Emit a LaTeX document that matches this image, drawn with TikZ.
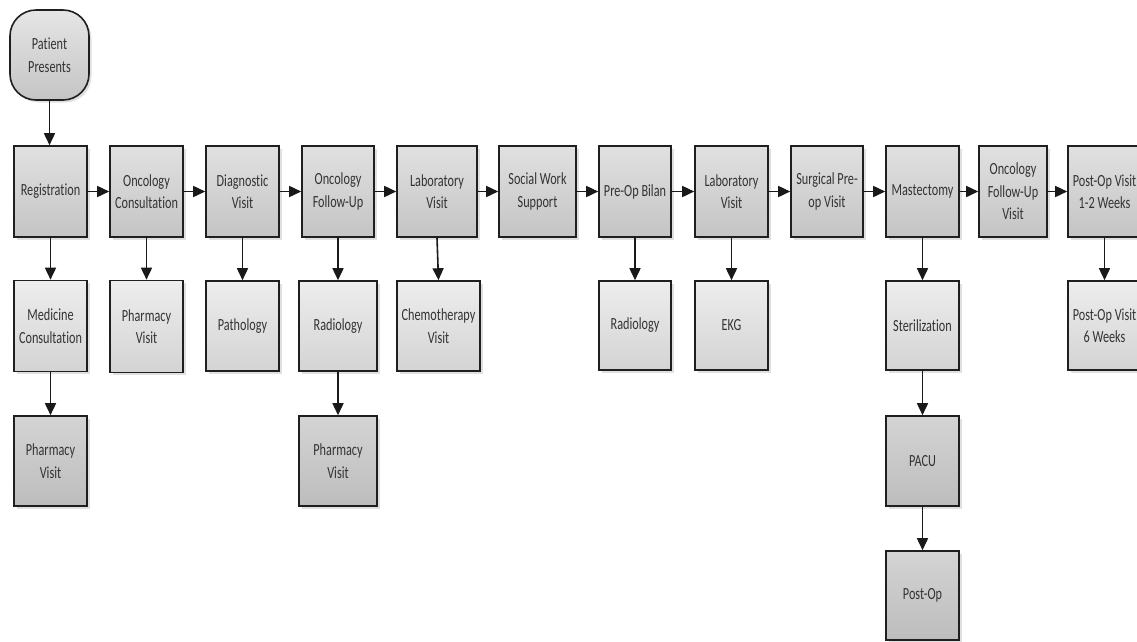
\documentclass[tikz,border=0pt]{standalone}
\usepackage{fontspec}
\newfontfamily\boxfont[FakeStretch=0.72,Ligatures=NoCommon]{Carlito}
\usetikzlibrary{arrows.meta,shadows}
\tikzset{
  box/.style={draw=black!88, line width=1.6pt, rectangle, inner sep=1pt,
    align=center, text=black!80,
    font=\boxfont\fontsize{17}{22.5}\selectfont,
    drop shadow={shadow xshift=2.5pt, shadow yshift=-2.5pt, fill=black!30, opacity=0.4}},
  rowA/.style={box, top color=black!12, bottom color=black!23},
  rowB/.style={box, top color=black!7, bottom color=black!17},
  rowC/.style={box, top color=black!17, bottom color=black!26},
  startbox/.style={box, rounded corners=26pt, top color=black!10, bottom color=black!23},
  flow/.style={line width=1.6pt, draw=black!90, -{Triangle[length=12pt,width=11pt]}}
}
\begin{document}
\begin{tikzpicture}[x=1pt,y=-1pt]
\fill[white] (0,0) rectangle (1137,641);
\begin{scope}
\clip (0,0) rectangle (1137,641);
% start
\node[startbox, minimum width=79pt, minimum height=90pt] (pp) at (49.5,55) {Patient\\Presents};
% top row
\node[rowA, minimum width=73pt, minimum height=91pt] (reg) at (50.5,191.5) {Registration};
\node[rowA, minimum width=73pt, minimum height=91pt] (oncc) at (146.5,191.5) {Oncology\\Consultation};
\node[rowA, minimum width=73pt, minimum height=91pt] (diag) at (242.5,191.5) {Diagnostic\\Visit};
\node[rowA, minimum width=72pt, minimum height=91pt] (oncf) at (338,191.5) {Oncology\\Follow-Up};
\node[rowA, minimum width=80pt, minimum height=91pt] (lab1) at (437,191.5) {Laboratory\\Visit};
\node[rowA, minimum width=77pt, minimum height=91pt] (soc) at (537.5,191.5) {Social Work\\Support};
\node[rowA, minimum width=72pt, minimum height=91pt] (preop) at (635,191.5) {Pre-Op Bilan};
\node[rowA, minimum width=73pt, minimum height=91pt] (lab2) at (731.5,191.5) {Laboratory\\Visit};
\node[rowA, minimum width=72pt, minimum height=91pt] (surg) at (827,191.5) {Surgical Pre-\\op Visit};
\node[rowA, minimum width=73pt, minimum height=91pt] (mast) at (922.5,191.5) {Mastectomy};
\node[rowA, minimum width=68pt, minimum height=91pt] (oncfv) at (1013,191.5) {Oncology\\Follow-Up\\Visit};
\node[rowA, minimum width=73pt, minimum height=91pt] (post12) at (1104.5,191.5) {Post-Op Visit\\1-2 Weeks};
% second row
\node[rowB, minimum width=73pt, minimum height=91pt] (med) at (50.5,326) {Medicine\\Consultation};
\node[rowB, minimum width=73pt, minimum height=92pt] (pharm1) at (146.5,326.5) {Pharmacy\\Visit};
\node[rowB, minimum width=73pt, minimum height=90pt] (path) at (242.5,326) {Pathology};
\node[rowB, minimum width=78pt, minimum height=90pt] (rad1) at (338,326) {Radiology};
\node[rowB, minimum width=83pt, minimum height=90pt] (chemo) at (438.5,326) {Chemotherapy\\Visit};
\node[rowB, minimum width=72pt, minimum height=89pt] (rad2) at (635,325.5) {Radiology};
\node[rowB, minimum width=73pt, minimum height=89pt] (ekg) at (731.5,325.5) {EKG};
\node[rowB, minimum width=73pt, minimum height=89pt] (ster) at (922.5,325.5) {Sterilization};
\node[rowB, minimum width=73pt, minimum height=89pt] (post6) at (1104.5,325.5) {Post-Op Visit\\6 Weeks};
% third row
\node[rowC, minimum width=73pt, minimum height=90pt] (pharm2) at (50.5,461) {Pharmacy\\Visit};
\node[rowC, minimum width=78pt, minimum height=90pt] (pharm3) at (338,461) {Pharmacy\\Visit};
\node[rowC, minimum width=73pt, minimum height=90pt] (pacu) at (922.5,461) {PACU};
% fourth row
\node[rowC, minimum width=73pt, minimum height=89pt] (postop) at (922.5,595.5) {Post-Op};
% horizontal flow
\foreach \a/\b in {reg/oncc, oncc/diag, diag/oncf, oncf/lab1, lab1/soc, soc/preop,
                   preop/lab2, lab2/surg, surg/mast, mast/oncfv, oncfv/post12}
  \draw[flow] (\a.east) -- (\b.west);
% vertical flow
\draw[flow] (pp.south) -- (pp.south |- reg.north);
\foreach \a/\b in {reg/med, med/pharm2, oncc/pharm1, diag/path, oncf/rad1, rad1/pharm3,
                   lab1/chemo, preop/rad2, lab2/ekg, mast/ster, ster/pacu, pacu/postop, post12/post6}
  \draw[flow] (\a.south) -- (\b.north);
\end{scope}
\pgfresetboundingbox
\path[use as bounding box] (0,0) rectangle (1137,641);
\end{tikzpicture}
\end{document}
